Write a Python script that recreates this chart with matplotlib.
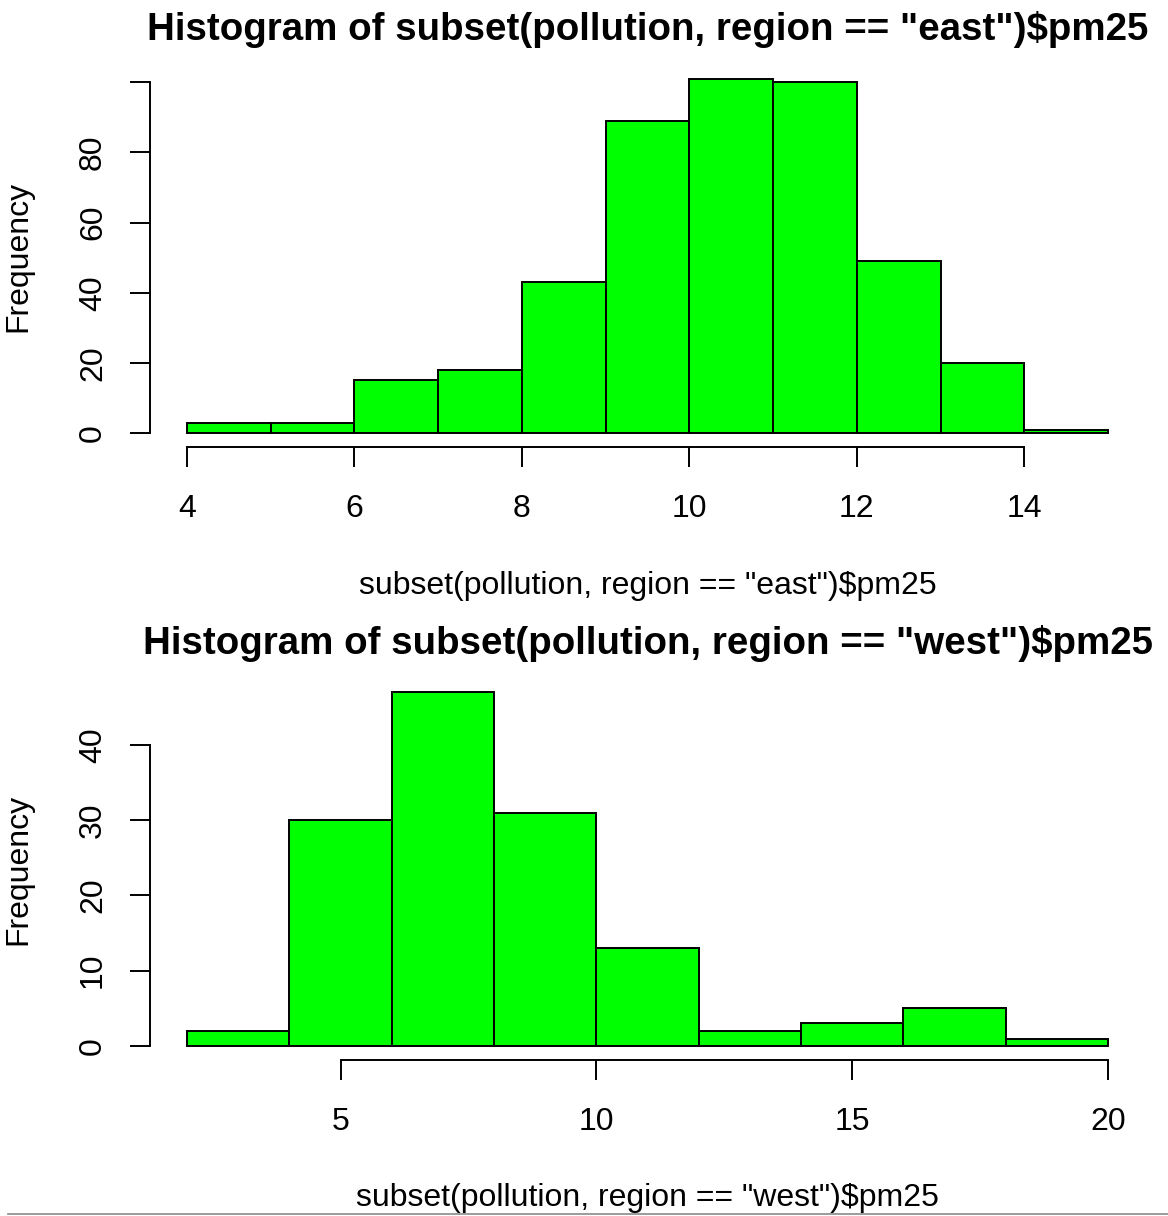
import matplotlib
matplotlib.use("Agg")
import matplotlib.pyplot as plt
from matplotlib.lines import Line2D
import numpy as np

# ---- data ----
east_edges = [4, 5, 6, 7, 8, 9, 10, 11, 12, 13, 14, 15]
east_counts = [3, 3, 15, 18, 43, 89, 101, 100, 49, 20, 1]
east_xticks = [4, 6, 8, 10, 12, 14]
east_yticks = [0, 20, 40, 60, 80, 100]
east_ylabels = ["0", "20", "40", "60", "80", ""]

west_edges = [2, 4, 6, 8, 10, 12, 14, 16, 18, 20]
west_counts = [2, 30, 47, 31, 13, 2, 3, 5, 1]
west_xticks = [5, 10, 15, 20]
west_yticks = [0, 10, 20, 30, 40]
west_ylabels = ["0", "10", "20", "30", "40"]

east_title = 'Histogram of subset(pollution, region == "east")$pm25'
west_title = 'Histogram of subset(pollution, region == "west")$pm25'
east_xlabel = 'subset(pollution, region == "east")$pm25'
west_xlabel = 'subset(pollution, region == "west")$pm25'
ylabel = "Frequency"

W, H = 1168, 1216
DPI = 100
plt.rcParams["font.family"] = ["Liberation Sans", "DejaVu Sans"]

fig = plt.figure(figsize=(W / DPI, H / DPI), dpi=DPI)
fig.patch.set_facecolor("white")

LW = 1.4
TICK_FS = 23
TITLE_FS = 27.7


def px_axes(left, top, right, bottom):
    return fig.add_axes([left / W, 1 - bottom / H, (right - left) / W, (bottom - top) / H])


def draw_hist(ax, edges, counts, xticks, yticks, ylabels):
    edges = np.asarray(edges, float)
    counts = np.asarray(counts, float)
    ax.bar(edges[:-1], counts, width=np.diff(edges), align="edge",
           color="#00FF00", edgecolor="black", linewidth=LW)
    xr = edges[-1] - edges[0]
    ax.set_xlim(edges[0] - 0.04 * xr, edges[-1] + 0.04 * xr)
    yr = counts.max()
    ax.set_ylim(-0.04 * yr, yr * 1.04)
    for s in ["top", "right"]:
        ax.spines[s].set_visible(False)
    for s in ["left", "bottom"]:
        ax.spines[s].set_linewidth(LW)
    ax.spines["left"].set_bounds(yticks[0], yticks[-1])
    ax.spines["bottom"].set_bounds(xticks[0], xticks[-1])
    ax.set_xticks(xticks)
    ax.set_xticklabels([str(t) for t in xticks])
    ax.set_yticks(yticks)
    ax.set_yticklabels(ylabels, rotation=90, va="center")
    ax.tick_params(axis="both", direction="out", length=14.4, width=LW,
                   labelsize=TICK_FS, colors="black")
    ax.tick_params(axis="x", pad=19)
    ax.tick_params(axis="y", pad=16)
    ax.set_facecolor("none")


ax1 = px_axes(150.2, 64.6, 1144.9, 447.2)
draw_hist(ax1, east_edges, east_counts, east_xticks, east_yticks, east_ylabels)
ax2 = px_axes(150.2, 678.0, 1144.8, 1060.2)
draw_hist(ax2, west_edges, west_counts, west_xticks, west_yticks, west_ylabels)

cx = (150.2 + 1144.9) / 2 / W
fig.text(cx, 1 - 30 / H, east_title, ha="center", va="center", fontsize=TITLE_FS, fontweight="bold")
fig.text(cx, 1 - 643 / H, west_title, ha="center", va="center", fontsize=TITLE_FS, fontweight="bold")
fig.text(cx, 1 - 586 / H, east_xlabel, ha="center", va="center", fontsize=TICK_FS)
fig.text(cx, 1 - 1198 / H, west_xlabel, ha="center", va="center", fontsize=TICK_FS)
fig.text(18 / W, 1 - 256 / H, ylabel, ha="center", va="center", rotation=90, fontsize=TICK_FS)
fig.text(18 / W, 1 - 869 / H, ylabel, ha="center", va="center", rotation=90, fontsize=TICK_FS)

fig.add_artist(Line2D([8 / W, 1], [2.5 / H, 2.5 / H], transform=fig.transFigure,
                      color="#8a8a8a", linewidth=1.2))

fig.savefig("out.png", dpi=DPI)
